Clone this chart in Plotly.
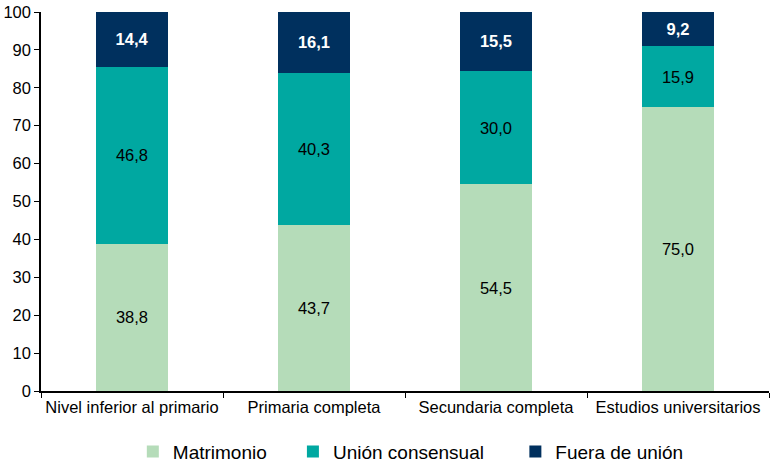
import plotly.graph_objects as go

categorias = ["Nivel inferior al primario", "Primaria completa",
              "Secundaria completa", "Estudios universitarios"]
matrimonio = [38.8, 43.7, 54.5, 75.0]
union_consensual = [46.8, 40.3, 30.0, 15.9]
fuera_de_union = [14.4, 16.1, 15.5, 9.2]
y_ticks = list(range(0, 101, 10))

FONT = "Liberation Sans, Arial"
PAD = "\u00a0"  # widens the gaps between legend items

series = [
    ("Matrimonio" + PAD * 4, matrimonio, "#b5dcb9", dict(color="black", size=16.5)),
    ("Unión consensual" + PAD * 5, union_consensual, "#00a8a1", dict(color="black", size=16.5)),
    ("Fuera de unión", fuera_de_union, "#00305e",
     dict(color="white", size=16.5, family=FONT, weight="bold")),
]

fig = go.Figure()
for name, values, color, tfont in series:
    fig.add_trace(go.Bar(
        x=categorias,
        y=values,
        name=name,
        marker=dict(color=color, line=dict(width=0)),
        texttemplate="%{y:.1f}",
        textposition="inside",
        insidetextanchor="middle",
        textfont=tfont,
        constraintext="none",
    ))

fig.update_layout(
    barmode="stack",
    bargap=0.6,
    separators=",.",
    width=772,
    height=463,
    margin=dict(l=41, r=3, t=12, b=72, autoexpand=False),
    plot_bgcolor="white",
    paper_bgcolor="white",
    font=dict(family=FONT, size=16.5, color="black"),
    showlegend=True,
    legend=dict(
        orientation="h",
        x=0.508, xanchor="center",
        y=-0.16, yanchor="middle",
        font=dict(size=19),
        itemwidth=30,
        traceorder="normal",
    ),
)

fig.update_xaxes(
    showline=True, linecolor="black", linewidth=1.5,
    ticks="outside", tickson="boundaries", ticklen=5, tickcolor="black",
    tickangle=0, showgrid=False, automargin=False,
)
fig.update_yaxes(
    range=[0, 100], tickvals=y_ticks,
    showline=True, linecolor="black", linewidth=1.5,
    ticks="outside", ticklen=5, tickcolor="black",
    showgrid=False, zeroline=False, automargin=False,
    ticklabeloverflow="allow",
)

# drop the default 8px body margin so the figure fills the window
fig.write_html("out.html", config={"displayModeBar": False},
               post_script="document.body.style.margin = '0';")
